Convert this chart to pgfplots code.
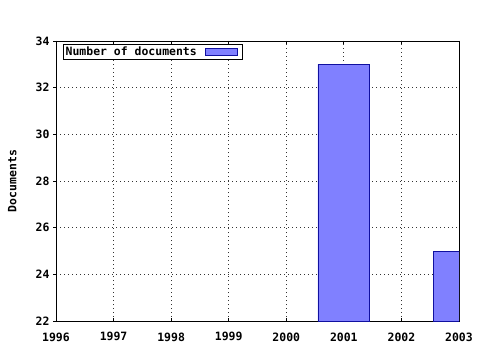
\documentclass[border=0pt]{standalone}
\usepackage{fontspec}
\setmainfont{DejaVu Sans Mono}
\usepackage{pgfplots}
\pgfplotsset{compat=1.18}
\definecolor{barfill}{HTML}{8080FF}
\definecolor{barline}{HTML}{1010A0}
\begin{document}
\begin{tikzpicture}[x=1bp,y=1bp]
\useasboundingbox (0,0) rectangle (480,350);
\begin{axis}[
  at={(56bp,29bp)}, anchor=south west,
  scale only axis, width=403bp, height=280bp,
  xmin=1996, xmax=2003, ymin=22, ymax=34,
  xtick={1996,...,2003}, ytick={22,24,...,34},
  minor x tick num=3,
  x tick style={black, line width=0.8pt},
  xtick pos=both, xtick align=inside,
  ytick pos=left, ytick align=outside,
  major tick length=3bp, minor tick length=3bp,
  y tick style={black, line width=0.8pt},
  axis line style={black, line width=1pt},
  grid=major,
  major grid style={black!80, dash pattern=on 1.2bp off 2.8bp, line width=0.8pt},
  x tick label style={font=\bfseries\fontsize{11.5}{13}\selectfont, yshift=-8bp},
  y tick label style={font=\bfseries\fontsize{11.5}{13}\selectfont},
  /pgf/number format/assume math mode=true,
  xticklabel={\pgfmathprintnumber[1000 sep={},fixed]{\tick}},
  ylabel={\bfseries Documents},
  ylabel style={font=\fontsize{11.5}{13}\selectfont, at={(axis description cs:-0.089,0.5)}, anchor=south},
  legend style={at={(rel axis cs:0,1)}, anchor=north west, xshift=7bp, yshift=-3bp,
    font=\bfseries\fontsize{11.5}{11}\selectfont, draw=black, line width=0.8pt,
    inner sep=0.3pt, row sep=-1.5pt},
  legend cell align=left,
  legend plot pos=right,
  legend image code/.code={\path (0,0); \draw[#1, fill=barfill, draw=barline, line width=0.8pt] (6bp,-3.5bp) rectangle (38bp,3.5bp); \path (43bp,0);},
  clip=true,
]
\addplot[ybar, bar width=0.9, fill=barfill, draw=barline, line width=0.8pt, bar shift=0pt] coordinates {(2001,33) (2003,25)};
\addlegendentry{Number of documents}
\end{axis}
\end{tikzpicture}
\end{document}
